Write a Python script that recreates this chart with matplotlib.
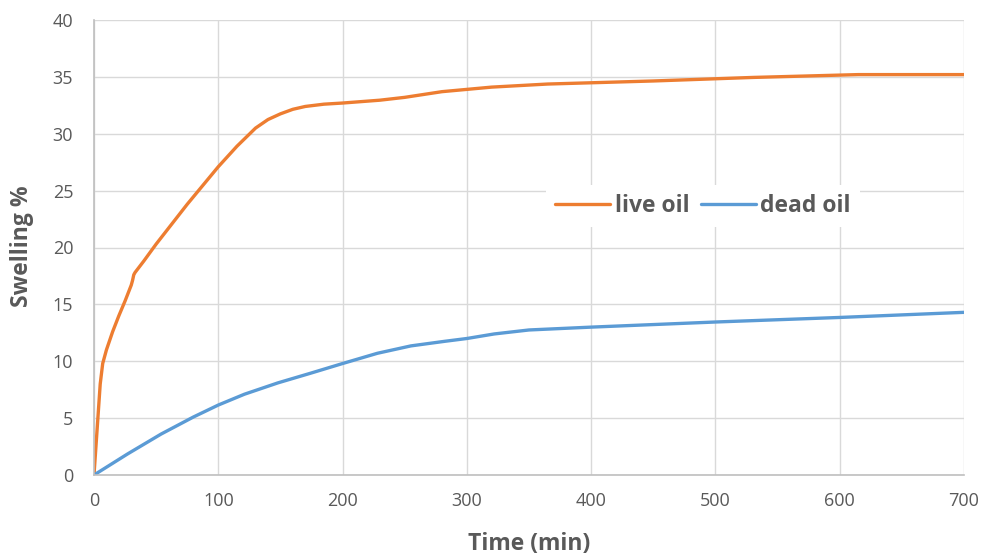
import matplotlib.pyplot as plt

live_t = [0, 5, 7, 10, 15, 20, 25, 30, 31, 32, 33, 40, 50, 75, 100, 105, 115,
          130, 140, 150, 160, 170, 185, 200, 230, 250, 280, 320, 365, 450,
          530, 615, 700]
live_swell = [0, 8.0, 9.8, 11.0, 12.6, 14.0, 15.3, 16.7, 17.1, 17.6, 17.8,
              18.8, 20.3, 23.8, 27.1, 27.7, 28.9, 30.5, 31.25, 31.75, 32.15,
              32.4, 32.6, 32.7, 32.95, 33.2, 33.7, 34.1, 34.37, 34.64, 34.95,
              35.2, 35.2]

dead_t = [0, 27, 54, 80, 100, 121, 148, 174, 200, 228, 255, 282, 300, 322,
          350, 400, 500, 600, 700]
dead_swell = [0, 1.85, 3.6, 5.1, 6.15, 7.1, 8.1, 8.94, 9.8, 10.7, 11.35,
              11.75, 12.0, 12.4, 12.75, 13.0, 13.45, 13.85, 14.3]

x_ticks = [0, 100, 200, 300, 400, 500, 600, 700]
y_ticks = [0, 5, 10, 15, 20, 25, 30, 35, 40]

plt.rcParams["font.family"] = ["Open Sans", "DejaVu Sans"]

fig = plt.figure(figsize=(9.91, 5.59), dpi=100)
ax = fig.add_axes([94 / 991, 1 - 475 / 559, 870 / 991, 455 / 559])

ax.plot(live_t, live_swell, color="#ED7D31", lw=2.4, label="live oil",
        solid_capstyle="round", solid_joinstyle="round")
ax.plot(dead_t, dead_swell, color="#5B9BD5", lw=2.4, label="dead oil",
        solid_capstyle="round", solid_joinstyle="round")

ax.set_xlim(0, 700)
ax.set_ylim(0, 40)
ax.set_xticks(x_ticks)
ax.set_yticks(y_ticks)
ax.grid(True, color="#D9D9D9", lw=1)
ax.set_axisbelow(True)
ax.tick_params(length=0, labelsize=13, colors="#595959")
ax.tick_params(axis="x", pad=12)
ax.tick_params(axis="y", pad=15)

for side in ["top", "right"]:
    ax.spines[side].set_visible(False)
for side in ["left", "bottom"]:
    ax.spines[side].set_color("#BFBFBF")
    ax.spines[side].set_linewidth(1.2)

ax.set_xlabel("Time (min)", fontsize=16.5, fontweight="bold", color="#595959")
ax.set_ylabel("Swelling %", fontsize=16.5, fontweight="bold", color="#595959")
ax.xaxis.set_label_coords(529 / 991, 1 - 544 / 559, transform=fig.transFigure)
ax.yaxis.set_label_coords(22 / 991, 1 - 246 / 559, transform=fig.transFigure)
ax.xaxis.label.set_va("center")
ax.yaxis.label.set_va("center")

leg = ax.legend(loc="center", bbox_to_anchor=(703 / 991, 1 - 206 / 559),
                bbox_transform=fig.transFigure, ncol=2, frameon=True,
                fontsize=16.5, handlelength=2.4, columnspacing=0.5,
                handletextpad=0.2, borderpad=0.4)
leg.get_frame().set_facecolor("white")
leg.get_frame().set_edgecolor("none")
leg.get_frame().set_alpha(1)
for t in leg.get_texts():
    t.set_color("#595959")
    t.set_fontweight("bold")

fig.savefig("out.png", dpi=100)
